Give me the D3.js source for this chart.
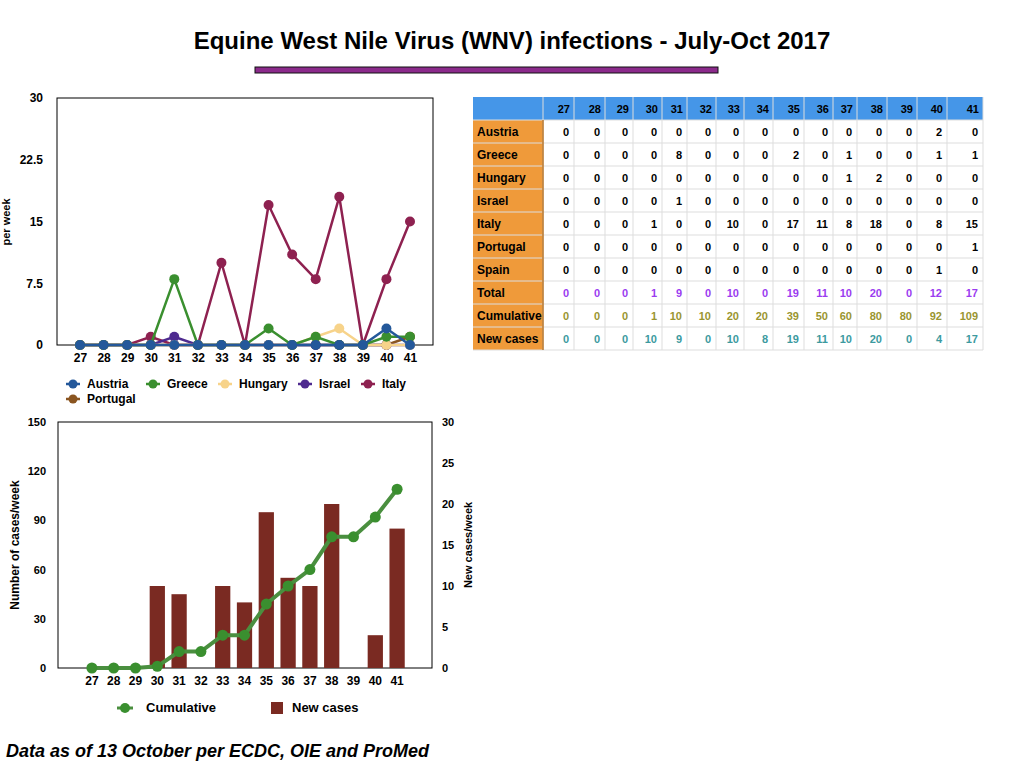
<!DOCTYPE html>
<html><head><meta charset="utf-8">
<script src="https://cdn.jsdelivr.net/npm/d3@7"></script>
<style>body{margin:0;background:#fff;font-family:"Liberation Sans",Arial,sans-serif;}</style>
</head><body>
<svg id="c" width="1024" height="768"></svg>
<script>
var weeks = ["27","28","29","30","31","32","33","34","35","36","37","38","39","40","41"];
var austria  = [0,0,0,0,0,0,0,0,0,0,0,0,0,2,0];
var greece   = [0,0,0,0,8,0,0,0,2,0,1,0,0,1,1];
var hungary  = [0,0,0,0,0,0,0,0,0,0,1,2,0,0,0];
var israel   = [0,0,0,0,1,0,0,0,0,0,0,0,0,0,0];
var italy    = [0,0,0,1,0,0,10,0,17,11,8,18,0,8,15];
var portugal = [0,0,0,0,0,0,0,0,0,0,0,0,0,0,1];
var spain    = [0,0,0,0,0,0,0,0,0,0,0,0,0,1,0];
var total    = [0,0,0,1,9,0,10,0,19,11,10,20,0,12,17];
var cumulative = [0,0,0,1,10,10,20,20,39,50,60,80,80,92,109];
var newCases = [0,0,0,10,9,0,10,8,19,11,10,20,0,4,17];
var topTicks = [0,7.5,15,22.5,30];
var leftTicks = [0,30,60,90,120,150];
var rightTicks = [0,5,10,15,20,25,30];

var svg = d3.select("#c");
var bold = "bold";

svg.append("text").attr("x",512).attr("y",49).attr("text-anchor","middle")
  .attr("font-size",24).attr("font-weight",bold).text("Equine West Nile Virus (WNV) infections - July-Oct 2017");
svg.append("rect").attr("x",255).attr("y",67).attr("width",463).attr("height",6)
  .attr("fill","#8b2a8b").attr("stroke","#111").attr("stroke-width",1);
svg.append("text").attr("x",6).attr("y",757).attr("font-size",18).attr("font-weight",bold)
  .attr("font-style","italic").text("Data as of 13 October per ECDC, OIE and ProMed");

// ---- top line chart ----
var x1 = d3.scalePoint().domain(weeks).range([80,410]);
var y1 = d3.scaleLinear().domain([0,30]).range([345,98]);
svg.append("rect").attr("x",57).attr("y",98).attr("width",376).attr("height",247)
  .attr("fill","none").attr("stroke","#000");
svg.append("g").attr("transform","translate(57,0)")
  .call(d3.axisLeft(y1).tickValues(topTicks).tickSize(0).tickPadding(14).tickFormat(d3.format("")))
  .call(g=>g.select(".domain").remove())
  .selectAll("text").attr("font-size",12).attr("font-weight",bold).attr("font-family","Liberation Sans");
svg.append("g").attr("transform","translate(0,345)")
  .call(d3.axisBottom(x1).tickSize(0).tickPadding(8))
  .call(g=>g.select(".domain").remove())
  .selectAll("text").attr("font-size",12).attr("font-weight",bold).attr("font-family","Liberation Sans");
svg.append("text").attr("transform","translate(10,222) rotate(-90)").attr("text-anchor","middle")
  .attr("font-size",11).attr("font-weight",bold).text("per week");

var series = [
  {name:"Portugal",v:portugal,c:"#8a5520"},
  {name:"Italy",v:italy,c:"#8e2150"},
  {name:"Israel",v:israel,c:"#4e2a8f"},
  {name:"Hungary",v:hungary,c:"#f7d38a"},
  {name:"Greece",v:greece,c:"#3a8f2f"},
  {name:"Austria",v:austria,c:"#24589a"}
];
var line1 = d3.line().x((d,i)=>x1(weeks[i])).y(d=>y1(d));
series.forEach(function(s){
  svg.append("path").attr("d",line1(s.v)).attr("fill","none").attr("stroke",s.c).attr("stroke-width",2.5);
  svg.append("g").selectAll("circle").data(s.v).enter().append("circle")
    .attr("cx",(d,i)=>x1(weeks[i])).attr("cy",d=>y1(d)).attr("r",5).attr("fill",s.c);
});
var legend = [
  {name:"Austria",c:"#24589a",x:73,y:384},{name:"Greece",c:"#3a8f2f",x:153,y:384},
  {name:"Hungary",c:"#f7d38a",x:225,y:384},{name:"Israel",c:"#4e2a8f",x:305,y:384},
  {name:"Italy",c:"#8e2150",x:368,y:384},{name:"Portugal",c:"#8a5520",x:73,y:399}
];
legend.forEach(function(l){
  svg.append("line").attr("x1",l.x-7).attr("x2",l.x+7).attr("y1",l.y).attr("y2",l.y).attr("stroke",l.c).attr("stroke-width",2.5);
  svg.append("circle").attr("cx",l.x).attr("cy",l.y).attr("r",4.5).attr("fill",l.c);
  svg.append("text").attr("x",l.x+14).attr("y",l.y+4).attr("font-size",12).attr("font-weight",bold).text(l.name);
});

// ---- bottom combo chart ----
var x2 = d3.scaleBand().domain(weeks).range([81,408]).padding(0.3).paddingOuter(0.15);
var yl = d3.scaleLinear().domain([0,150]).range([668,422]);
var yr = d3.scaleLinear().domain([0,30]).range([668,422]);
svg.append("rect").attr("x",58).attr("y",422).attr("width",374).attr("height",246)
  .attr("fill","none").attr("stroke","#000");
svg.append("g").attr("transform","translate(58,0)")
  .call(d3.axisLeft(yl).tickValues(leftTicks).tickSize(0).tickPadding(12))
  .call(g=>g.select(".domain").remove())
  .selectAll("text").attr("font-size",11).attr("font-weight",bold).attr("font-family","Liberation Sans");
svg.append("g").attr("transform","translate(432,0)")
  .call(d3.axisRight(yr).tickValues(rightTicks).tickSize(0).tickPadding(10))
  .call(g=>g.select(".domain").remove())
  .selectAll("text").attr("font-size",11).attr("font-weight",bold).attr("font-family","Liberation Sans");
svg.append("g").attr("transform","translate(0,668)")
  .call(d3.axisBottom(x2).tickSize(0).tickPadding(8))
  .call(g=>g.select(".domain").remove())
  .selectAll("text").attr("font-size",12).attr("font-weight",bold).attr("font-family","Liberation Sans");
svg.append("text").attr("transform","translate(19,545) rotate(-90)").attr("text-anchor","middle")
  .attr("font-size",12).attr("font-weight",bold).text("Number of cases/week");
svg.append("text").attr("transform","translate(472,545) rotate(-90)").attr("text-anchor","middle")
  .attr("font-size",11).attr("font-weight",bold).text("New cases/week");
svg.append("g").selectAll("rect").data(newCases).enter().append("rect")
  .attr("x",(d,i)=>x2(weeks[i])).attr("width",x2.bandwidth())
  .attr("y",d=>yr(d)).attr("height",d=>668-yr(d)).attr("fill","#7a2a22");
var line2 = d3.line().x((d,i)=>x2(weeks[i])+x2.bandwidth()/2).y(d=>yl(d));
svg.append("path").attr("d",line2(cumulative)).attr("fill","none").attr("stroke","#4a8f3f").attr("stroke-width",4);
svg.append("g").selectAll("circle").data(cumulative).enter().append("circle")
  .attr("cx",(d,i)=>x2(weeks[i])+x2.bandwidth()/2).attr("cy",d=>yl(d)).attr("r",5.5).attr("fill","#3a8f2f");
svg.append("line").attr("x1",117).attr("x2",133).attr("y1",708).attr("y2",708).attr("stroke","#4a8f3f").attr("stroke-width",3);
svg.append("circle").attr("cx",125).attr("cy",708).attr("r",5).attr("fill","#3a8f2f");
svg.append("text").attr("x",146).attr("y",712).attr("font-size",13).attr("font-weight",bold).text("Cumulative");
svg.append("rect").attr("x",271).attr("y",702).attr("width",12).attr("height",12).attr("fill","#7a2a22");
svg.append("text").attr("x",292).attr("y",712).attr("font-size",13).attr("font-weight",bold).text("New cases");

// ---- table ----
var colEdges = [473,543,574,605,633,662,687,716,744,773,804,833,857,887,917,947,983];
var rowNames = ["Austria","Greece","Hungary","Israel","Italy","Portugal","Spain","Total","Cumulative","New cases"];
var rowData = [austria,greece,hungary,israel,italy,portugal,spain,total,cumulative,newCases];
var rowColors = ["#000","#000","#000","#000","#000","#000","#000","#9b3cf0","#9a9530","#3c9aa0"];
var tY = 97, hH = 23, rH = 23;
var t = svg.append("g");
t.append("rect").attr("x",473).attr("y",tY).attr("width",510).attr("height",hH).attr("fill","#4596e8");
t.append("rect").attr("x",473).attr("y",tY+hH).attr("width",70).attr("height",rH*10).attr("fill","#ef9a3a");
for (var i=0;i<=10;i++) t.append("line").attr("x1",473).attr("x2",983)
  .attr("y1",tY+hH+i*rH).attr("y2",tY+hH+i*rH).attr("stroke","#ddd");
for (var j=1;j<colEdges.length;j++) t.append("line").attr("x1",colEdges[j]).attr("x2",colEdges[j])
  .attr("y1",tY).attr("y2",tY+hH+rH*10).attr("stroke","#ddd");
t.append("line").attr("x1",543).attr("x2",543).attr("y1",tY+hH).attr("y2",tY+hH+rH*10).attr("stroke","#b8762a").attr("stroke-width",1.5);
weeks.forEach(function(w,k){
  t.append("text").attr("x",colEdges[k+2]-4).attr("y",tY+16).attr("text-anchor","end")
    .attr("font-size",11).attr("font-weight",bold).text(w);
});
rowNames.forEach(function(n,r){
  var yy = tY+hH+r*rH+16;
  t.append("text").attr("x",477).attr("y",yy).attr("font-size",12).attr("font-weight",bold).text(n);
  rowData[r].forEach(function(v,k){
    t.append("text").attr("x",colEdges[k+2]-5).attr("y",yy).attr("text-anchor","end")
      .attr("font-size",11).attr("font-weight",bold).attr("fill",rowColors[r]).text(v);
  });
});
</script>
</body></html>
